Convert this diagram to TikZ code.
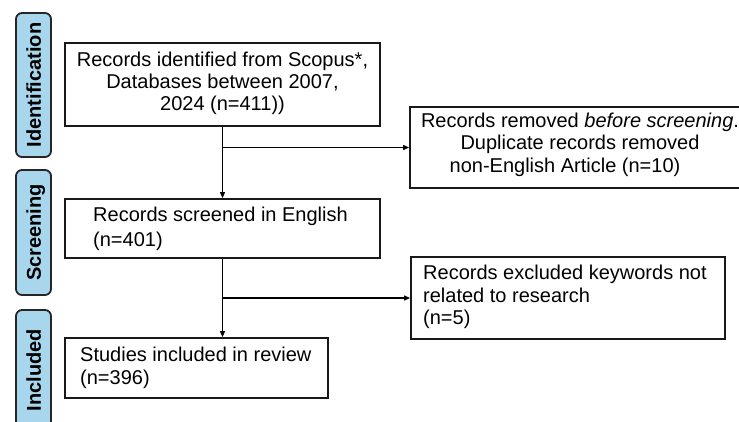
\documentclass[tikz,border=0pt]{standalone}
\usepackage{fontspec}
\setmainfont{Liberation Sans}
\usetikzlibrary{arrows.meta,calc}
\definecolor{phaseblue}{RGB}{168,214,236}
\begin{document}
\begin{tikzpicture}[x=1bp,y=-1bp,
  box/.style={draw=black!90, line width=1.8bp, fill=white, inner sep=0pt},
  txt/.style={inner sep=0pt, font=\fontsize{20bp}{22.5bp}\selectfont},
  phase/.style={draw=black!85, line width=1.8bp, rounded corners=6bp, fill=phaseblue, inner sep=0pt,
    font=\fontsize{20bp}{24bp}\selectfont\bfseries, rotate=90, text height=14.5bp, text depth=0pt, minimum height=35bp},
  conn/.style={line width=1.1bp, -{Triangle[length=6bp,width=5bp]}},
]
\useasboundingbox (0,0) rectangle (739,421);
\clip (0,0) rectangle (739,421);
\fill[white] (0,0) rectangle (739,421);

% phase labels
\node[phase, minimum width=144bp] (p1) at (33.5,85) {Identification};
\node[phase, minimum width=125bp] (p2) at (33.5,232.5) {Screening};
\node[phase, minimum width=120bp] (p3) at (33.5,370) {Included};

% boxes
\node[box, minimum width=315bp, minimum height=83bp] (b1) at (222.5,84.5) {};
\node[box, minimum width=315bp, minimum height=59bp] (b2) at (222.5,228.5) {};
\node[box, minimum width=350bp, minimum height=81bp] (b3) at (585,147.5) {};
\node[box, minimum width=314bp, minimum height=82bp] (b4) at (568,298) {};
\node[box, minimum width=263bp, minimum height=60bp] (b5) at (196.5,368) {};

% texts
\node[txt, align=center, font=\fontsize{20bp}{21.7bp}\selectfont] (t1) at (222.5,83.3)
  {Records identified from Scopus*,\\Databases between 2007,\\2024 (n=411))};
\node[txt, align=left, anchor=west, font=\fontsize{20bp}{25bp}\selectfont] (t2) at (93,228.5)
  {Records screened in English\\(n=401)};
\node[txt, align=center] (t3) at (580,144.7)
  {Records removed \textit{before screening}.\\Duplicate records removed\\non-English Article (n=10)\hspace*{30bp}};
\node[txt, align=left, anchor=west] (t4) at (423,297.3)
  {Records excluded keywords not\\related to research\\(n=5)};
\node[txt, align=left, anchor=west, font=\fontsize{20bp}{23bp}\selectfont] (t5) at (80,367.5)
  {Studies included in review\\(n=396)};

% connectors
\draw[conn] (b1) -- (b2);
\draw[conn] (b1.south |- b3.west) -- (b3.west);
\draw[conn] (b2.south) -- (b2.south |- b5.north);
\draw[conn] (b2.south |- b4.west) -- (b4.west);
\end{tikzpicture}
\end{document}
